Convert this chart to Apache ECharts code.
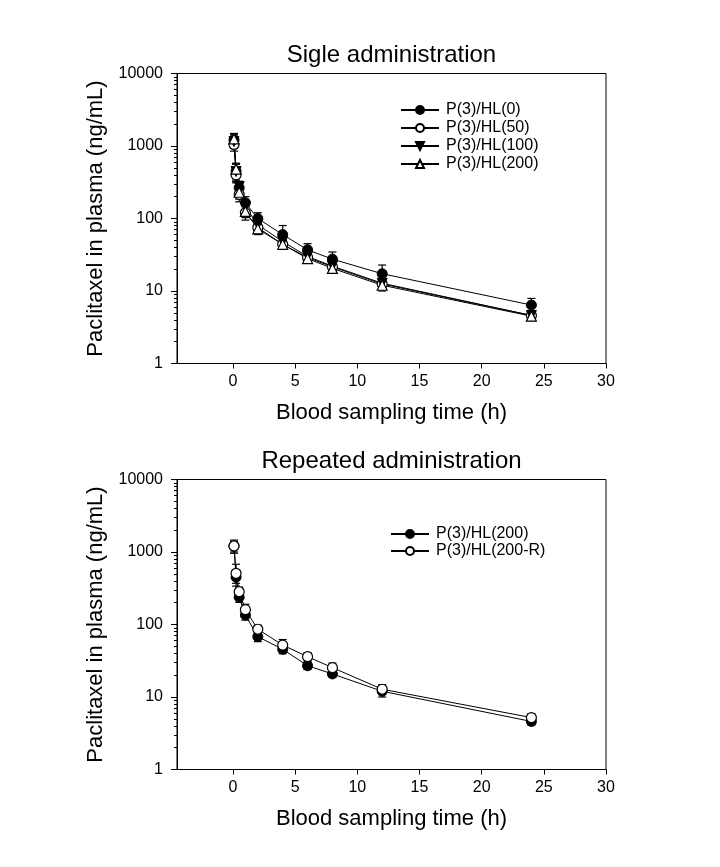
<!DOCTYPE html>
<html><head><meta charset="utf-8">
<script src="https://cdn.jsdelivr.net/npm/echarts@6/dist/echarts.min.js"></script>
<style>html,body{margin:0;padding:0;background:#fff}#c{width:720px;height:867px}</style>
</head><body><div id="c"></div>
<script>
// ---- data ----
const times = [0.083, 0.25, 0.5, 1, 2, 4, 6, 8, 12, 24];
const xTicks = [0, 5, 10, 15, 20, 25, 30];
const yTicks = [1, 10, 100, 1000, 10000];
const yMinorTicks = [2,3,4,5,6,7,8,9,20,30,40,50,60,70,80,90,200,300,400,500,600,700,800,900,2000,3000,4000,5000,6000,7000,8000,9000];

const titleTop = 'Sigle administration';
const titleBottom = 'Repeated administration';
const xName = 'Blood sampling time (h)';
const yName = 'Paclitaxel in plasma (ng/mL)';

// Single administration
const hl0Name = 'P(3)/HL(0)';
const hl0 = [1210, 450, 265, 165, 100, 60, 37, 27.5, 17.3, 6.4];
const hl0Sd = [280, 110, 60, 35, 20, 20, 8, 7, 5.5, 1.5];
const hl50Name = 'P(3)/HL(50)';
const hl50 = [1050, 400, 215, 120, 75, 44, 29, 21.5, 12.5, 4.6];
const hl50Sd = [200, 90, 45, 25, 12, 6, 4, 3, 2, 0.6];
const hl100Name = 'P(3)/HL(100)';
const hl100 = [1150, 445, 275, 145, 82, 48, 30, 22, 12.8, 4.6];
const hl100Sd = [220, 120, 50, 28, 14, 7, 4, 3, 2, 0.6];
const hl200Name = 'P(3)/HL(200)';
const hl200 = [1250, 480, 230, 125, 72, 44, 28, 20.5, 12, 4.5];
const hl200Sd = [200, 100, 45, 22, 12, 6, 3.5, 2.5, 2, 0.6];

// Repeated administration
const rep200Name = 'P(3)/HL(200)';
const rep200 = [1200, 450, 237, 135, 68, 45.5, 27, 20.8, 12, 4.6];
const rep200Sd = [200, 80, 35, 20, 10, 6, 3, 2, 2, 0.5];
const rep200RName = 'P(3)/HL(200-R)';
const rep200R = [1210, 508, 283, 160, 86, 52, 36, 25.4, 12.8, 5.2];
const rep200RSd = [250, 170, 45, 30, 12, 10, 5, 4, 2, 0.7];

// ---- build ----
const FONT = 'Liberation Sans, Arial, sans-serif';
function pts(vals){ return times.map((t,i)=>[t, vals[i]]); }
function errs(vals, sd){ return times.map((t,i)=>[t, vals[i]-sd[i], vals[i]+sd[i]]); }

function errSeries(vals, sd, gi){
  return {
    type:'custom', xAxisIndex: gi*2, yAxisIndex: gi*2, z:1, silent:true,
    encode:{x:0, y:[1,2]},
    data: errs(vals, sd),
    renderItem(params, api){
      const x = api.value(0);
      const lo = api.coord([x, api.value(1)]);
      const hi = api.coord([x, api.value(2)]);
      const w = 4;
      const st = {stroke:'#000', lineWidth:1.2};
      return {type:'group', children:[
        {type:'line', shape:{x1:lo[0], y1:lo[1], x2:hi[0], y2:hi[1]}, style:st},
        {type:'line', shape:{x1:lo[0]-w, y1:lo[1], x2:lo[0]+w, y2:lo[1]}, style:st},
        {type:'line', shape:{x1:hi[0]-w, y1:hi[1], x2:hi[0]+w, y2:hi[1]}, style:st}
      ]};
    }
  };
}
function lineSeries(name, vals, gi, symbol, filled, rotate){
  return {
    type:'line', name, xAxisIndex: gi*2, yAxisIndex: gi*2, z:3,
    data: pts(vals), symbol, symbolSize: 10, symbolRotate: rotate || 0,
    showAllSymbol:true,
    lineStyle:{color:'#000', width:1},
    itemStyle: filled ? {color:'#000', borderColor:'#000', borderWidth:1} : {color:'#fff', borderColor:'#000', borderWidth:1.2},
    emphasis:{disabled:true}, animation:false
  };
}

const grids = [
  {left:177, top:73.5, width:429, height:290, show:true, borderColor:'#000', borderWidth:1},
  {left:177, top:479.5, width:429, height:290, show:true, borderColor:'#000', borderWidth:1}
];
const xAxes = [], yAxes = [];
grids.forEach((g, gi) => {
  xAxes.push({
    type:'value', gridIndex:gi, min:-4.5, max:30, name:xName, nameLocation:'middle', nameGap:38,
    nameTextStyle:{fontFamily:FONT, fontSize:22, color:'#000'},
    axisLine:{show:true, onZero:false, lineStyle:{color:'#000', width:1}},
    axisTick:{show:true, inside:false, length:5, customValues:xTicks, lineStyle:{color:'#000'}},
    axisLabel:{show:true, customValues:xTicks, margin:10, fontFamily:FONT, fontSize:16, color:'#000'},
    splitLine:{show:false}
  });
  xAxes.push({
    type:'value', gridIndex:gi, min:-4.5, max:30, show:false
  });
  yAxes.push({
    type:'log', logBase:10, gridIndex:gi, min:1, max:10000, name:yName, nameLocation:'middle', nameGap:70,
    position:'left',
    nameTextStyle:{fontFamily:FONT, fontSize:22, color:'#000'},
    axisLine:{show:true, onZero:false, lineStyle:{color:'#000', width:1}},
    axisTick:{show:true, inside:false, length:6, customValues:yTicks, lineStyle:{color:'#000'}},
    axisLabel:{show:true, customValues:yTicks, margin:14, fontFamily:FONT, fontSize:16, color:'#000',
      formatter: v => String(Math.round(v))},
    splitLine:{show:false}
  });
  yAxes.push({
    type:'log', logBase:10, gridIndex:gi, min:1, max:10000, position:'left',
    axisLine:{show:false, onZero:false},
    axisTick:{show:true, inside:false, length:3, customValues:yMinorTicks, lineStyle:{color:'#000'}},
    axisLabel:{show:false}, splitLine:{show:false}
  });
});

const series = [
  errSeries(hl0, hl0Sd, 0), errSeries(hl50, hl50Sd, 0), errSeries(hl100, hl100Sd, 0), errSeries(hl200, hl200Sd, 0),
  lineSeries(hl0Name, hl0, 0, 'circle', true),
  lineSeries(hl50Name, hl50, 0, 'circle', false),
  lineSeries(hl100Name, hl100, 0, 'triangle', true, 180),
  lineSeries(hl200Name, hl200, 0, 'triangle', false),
  errSeries(rep200, rep200Sd, 1), errSeries(rep200R, rep200RSd, 1),
  lineSeries(rep200Name + ' ', rep200, 1, 'circle', true),
  lineSeries(rep200RName, rep200R, 1, 'circle', false)
];

const legendCommon = {
  orient:'vertical', itemWidth:38, itemHeight:10, selectedMode:false,
  textStyle:{fontFamily:FONT, fontSize:16, color:'#000', padding:[0,0,0,2]},
  formatter: n => n.trim()
};
const option = {
  animation:false,
  backgroundColor:'#fff',
  grid: grids, xAxis: xAxes, yAxis: yAxes, series,
  legend:[
    Object.assign({left:395, top:97, itemGap:2, data:[hl0Name, hl50Name, hl100Name, hl200Name]}, legendCommon),
    Object.assign({left:385, top:521, itemGap:1, data:[rep200Name + ' ', rep200RName]}, legendCommon)
  ],
  graphic:[
    {type:'text', x:391.5, y:55, style:{text:titleTop, fontFamily:FONT, fontSize:24, fill:'#000', textAlign:'center', textVerticalAlign:'middle'}},
    {type:'text', x:391.5, y:461, style:{text:titleBottom, fontFamily:FONT, fontSize:24, fill:'#000', textAlign:'center', textVerticalAlign:'middle'}}
  ]
};
const chart = echarts.init(document.getElementById('c'), null, {renderer:'canvas'});
chart.setOption(option);
</script></body></html>
